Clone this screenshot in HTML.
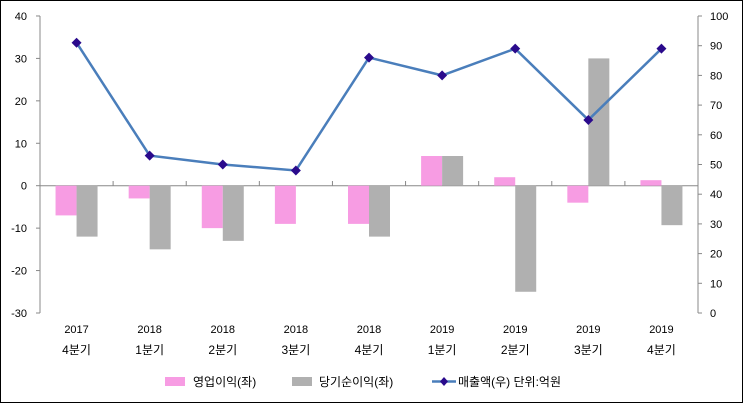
<!DOCTYPE html><html><head><meta charset="utf-8"><style>body{margin:0;background:#fff}svg{display:block}text{font-family:"Liberation Sans","Noto Sans CJK KR",sans-serif;font-size:11px;fill:#000}</style></head><body>
<svg width="743" height="403" viewBox="0 0 743 403">
<rect x="0.5" y="0.5" width="742" height="402" fill="#fff" stroke="#000"/>
<g id="bars"></g>
<g stroke="#888" fill="none">
<line x1="40" y1="16" x2="40" y2="313"/><line x1="698" y1="16" x2="698" y2="313"/>
<line x1="40" y1="185.7" x2="698" y2="185.7"/>
</g>
<g id="g"></g>
</svg>
<script>
const s=document.querySelector('svg'),NS='http://www.w3.org/2000/svg';
function el(t,a,txt){const e=document.createElementNS(NS,t);for(const k in a)e.setAttribute(k,a[k]);if(txt!=null)e.textContent=txt;s.appendChild(e);return e;}
const yL=v=>185.7-v*4.243, yR=v=>313-v*2.97;
for(let v=-30;v<=40;v+=10){el('line',{x1:36,x2:40,y1:yL(v),y2:yL(v),stroke:'#888'});el('text',{x:27,y:yL(v)+4,'text-anchor':'end'},v);}
for(let v=0;v<=100;v+=10){el('line',{x1:698,x2:702,y1:yR(v),y2:yR(v),stroke:'#888'});el('text',{x:710,y:yR(v)+4},v);}
const P=[-7,-3,-10,-9,-9,7,2,-4,1.3],G=[-12,-15,-13,0,-12,7,-25,30,-9.3],L=[91,53,50,48,86,80,89,65,89];
const yrs=['2017','2018','2018','2018','2018','2019','2019','2019','2019'],q=['4분기','1분기','2분기','3분기','4분기','1분기','2분기','3분기','4분기'];
const w=658/9;let pts=[];
for(let i=0;i<9;i++){const c=40+w*(i+0.5);
const r=(x,v,f)=>{const y0=yL(0),y1=yL(v);el('rect',{x:x,y:Math.min(y0,y1),width:21,height:Math.abs(y1-y0),fill:f});};
r(c-21,P[i],'#f79ce3');if(G[i])r(c,G[i],'#b0b0b0');
el('line',{x1:40+w*(i+1),x2:40+w*(i+1),y1:185.7,y2:181,stroke:'#888'});
el('text',{x:c,y:333,'text-anchor':'middle'},yrs[i]);el('text',{x:c,y:354,'text-anchor':'middle',style:'font-size:12px'},q[i]);
pts.push([c,yR(L[i])]);}
el('line',{x1:40,x2:40,y1:185.7,y2:181,stroke:'#888'});
el('polyline',{points:pts.map(p=>p.join(',')).join(' '),fill:'none',stroke:'#4a7ebb','stroke-width':2.5});
pts.forEach(p=>el('path',{d:`M${p[0]} ${p[1]-5}l5 5l-5 5l-5-5z`,fill:'#2a0a8c'}));
el('rect',{x:165,y:377,width:20,height:9,fill:'#f79ce3'});el('text',{x:193,y:386,style:'font-size:12px'},'영업이익(좌)');
el('rect',{x:292,y:377,width:20,height:9,fill:'#b0b0b0'});el('text',{x:319,y:386,style:'font-size:12px'},'당기순이익(좌)');
el('line',{x1:432,x2:456,y1:381.5,y2:381.5,stroke:'#4a7ebb','stroke-width':2.5});el('path',{d:'M444 377l4 4.5l-4 4.5l-4-4.5z',fill:'#2a0a8c'});
el('text',{x:458,y:386,style:'font-size:12px'},'매출액(우)  단위:억원');
</script>
</body></html>
